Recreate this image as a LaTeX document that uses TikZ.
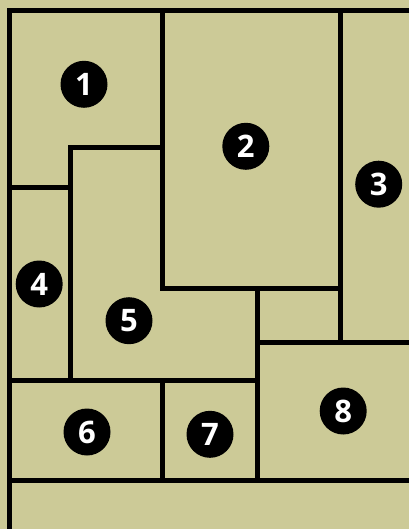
\documentclass[tikz,border=0pt]{standalone}
\usepackage{fontspec}
\setsansfont{Open Sans}
\definecolor{floorbg}{RGB}{204,202,151}

\begin{document}
\begin{tikzpicture}[
    x=1pt, y=-1pt,
    wall/.style={draw=black, line width=5pt, line join=miter},
    tag/.style={circle, fill=black, text=white, minimum size=47pt, inner sep=0pt, font=\sffamily\bfseries\fontsize{31}{31}\selectfont},
]

% === Background ===
\fill[floorbg] (0,0) rectangle (409,529);
\useasboundingbox (0,0) rectangle (409,529);

% === Outer walls ===
\draw[wall] (409,10.5) -- (9.5,10.5) -- (9.5,529);
\draw[wall] (9.5,480.7) -- (409,480.7);

% === Inner walls ===
\draw[wall] (162.5,10.5) -- (162.5,288.5) -- (340.5,288.5);
\draw[wall] (340.5,10.5) -- (340.5,342.5);
\draw[wall] (162.5,148) -- (70.8,148) -- (70.8,380.7);
\draw[wall] (9.5,187.5) -- (70.8,187.5);
\draw[wall] (9.5,380.7) -- (257.5,380.7);
\draw[wall] (257.5,288.5) -- (257.5,480.7);
\draw[wall] (257.5,342.5) -- (409,342.5);
\draw[wall] (162.5,380.7) -- (162.5,480.7);

% === Room numbers ===
\node[tag] (r1) at (84,84.3) {1};
\node[tag] (r2) at (245.8,146.3) {2};
\node[tag] (r3) at (378.7,184.2) {3};
\node[tag] (r4) at (39.2,284) {4};
\node[tag] (r5) at (129,320.7) {5};
\node[tag] (r6) at (87,432) {6};
\node[tag] (r7) at (210,434.3) {7};
\node[tag] (r8) at (343.2,411) {8};

\end{tikzpicture}
\end{document}
